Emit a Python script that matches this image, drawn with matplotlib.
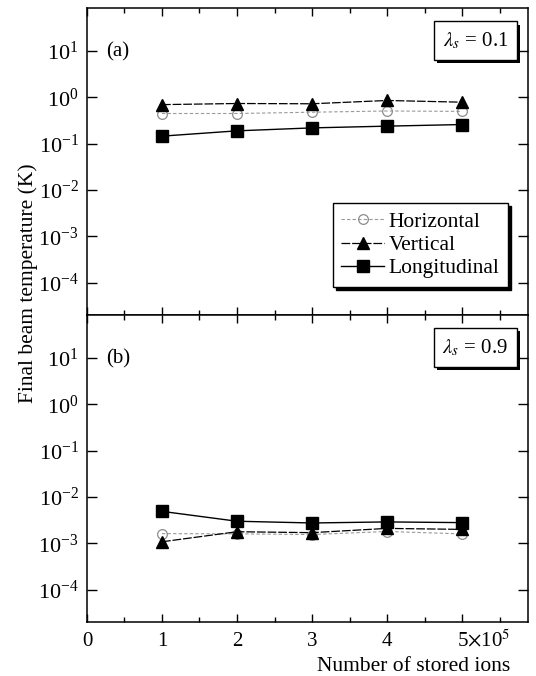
import numpy as np
import matplotlib
matplotlib.use('Agg')
import matplotlib.pyplot as plt
import matplotlib.patheffects as pe
from matplotlib.ticker import LogFormatterMathtext, MultipleLocator, NullLocator

plt.rcParams['font.family'] = ['Liberation Serif', 'DejaVu Serif']
plt.rcParams['mathtext.fontset'] = 'stix'

# number of stored ions (units of 1e5)
n_ions = [1, 2, 3, 4, 5]

# (a) lambda_s = 0.1
horiz_a = [0.45, 0.45, 0.48, 0.51, 0.50]
vert_a = [0.70, 0.74, 0.73, 0.86, 0.79]
long_a = [0.146, 0.19, 0.22, 0.24, 0.26]

# (b) lambda_s = 0.9
horiz_b = [0.00162, 0.0016, 0.00155, 0.0018, 0.0016]
vert_b = [0.00108, 0.00178, 0.0017, 0.0021, 0.0020]
long_b = [0.0049, 0.0030, 0.00275, 0.0029, 0.0028]

y_ticks = [1e-4, 1e-3, 1e-2, 1e-1, 1, 10]
x_ticks = [0, 1, 2, 3, 4, 5]
x_ticklabels = ['0', '1', '2', '3', '4', r'5$\times$10$^5$']

panels = [('(a)', 0.1, horiz_a, vert_a, long_a),
          ('(b)', 0.9, horiz_b, vert_b, long_b)]

fig = plt.figure(figsize=(5.36, 6.76), dpi=100)
ax_a = fig.add_axes([0.1623, 0.534, 0.8228, 0.454])
ax_b = fig.add_axes([0.1623, 0.0799, 0.8228, 0.454], sharex=ax_a)

for ax, (tag, lam, h, v, l) in zip([ax_a, ax_b], panels):
    ax.plot(n_ions, h, color='0.6', ls=(0, (3, 2)), lw=0.8,
            marker='o', ms=7, mfc='none', mec='0.55', mew=0.9,
            label='Horizontal', zorder=2)
    ax.plot(n_ions, v, color='k', ls=(0, (7, 1.5)), lw=0.9,
            marker='^', ms=8, mfc='k', mec='k',
            label='Vertical', zorder=3)
    ax.plot(n_ions, l, color='k', ls='-', lw=1.0,
            marker='s', ms=8.5, mfc='k', mec='k',
            label='Longitudinal', zorder=4)

    ax.set_yscale('log')
    ax.set_ylim(2e-5, 85)
    ax.set_xlim(0, 5.88)
    ax.set_yticks(y_ticks)
    ax.yaxis.set_major_formatter(LogFormatterMathtext())
    ax.yaxis.set_minor_locator(NullLocator())
    ax.xaxis.set_major_locator(MultipleLocator(1))
    ax.xaxis.set_minor_locator(MultipleLocator(0.5))

    ax.tick_params(which='both', direction='in', top=True, right=True, width=1.0)
    ax.tick_params(axis='y', which='major', length=7, pad=6, labelsize=16)
    ax.tick_params(axis='x', which='major', length=6, pad=7, labelsize=15)
    ax.tick_params(axis='x', which='minor', length=3.5)
    for s in ax.spines.values():
        s.set_linewidth(1.1)

    ax.text(0.07, 0.857, tag, transform=ax.transAxes, fontsize=15,
            ha='center', va='center')
    t = ax.text(0.955, 0.928, r'$\lambda_s$ = ' + str(lam),
                transform=ax.transAxes, fontsize=15, ha='right', va='top',
                bbox=dict(boxstyle='square,pad=0.42', fc='white', ec='k', lw=1.0))
    t.get_bbox_patch().set_path_effects([
        pe.SimplePatchShadow(offset=(2.2, -2.2), shadow_rgbFace='k', alpha=1.0),
        pe.Normal()])

leg = ax_a.legend(loc='lower right', bbox_to_anchor=(0.955, 0.091),
                  borderaxespad=0, fontsize=15.5, frameon=True, fancybox=False,
                  edgecolor='k', framealpha=1, handlelength=2.0,
                  handletextpad=0.2, labelspacing=0.15, borderpad=0.4,
                  shadow={'color': 'k', 'alpha': 1.0, 'ox': 2.2, 'oy': -2.2})
leg.get_frame().set_linewidth(1.0)

plt.setp(ax_a.get_xticklabels(), visible=False)
ax_b.set_xticks(x_ticks)
ax_b.set_xticklabels(x_ticklabels)
lbl5 = ax_b.get_xticklabels()[-1]
lbl5.set_horizontalalignment('left')
lbl5.set_transform(lbl5.get_transform() +
                   matplotlib.transforms.ScaledTranslation(-5 / 100, 2.5 / 100, fig.dpi_scale_trans))

ax_b.set_xlabel('Number of stored ions', fontsize=15.5, loc='right', labelpad=4.5)
ax_b.xaxis.label.set_x(0.96)
fig.text(0.052, 0.581, 'Final beam temperature (K)', rotation=90,
         fontsize=15.5, ha='center', va='center')

plt.savefig('out.png', dpi=100)
